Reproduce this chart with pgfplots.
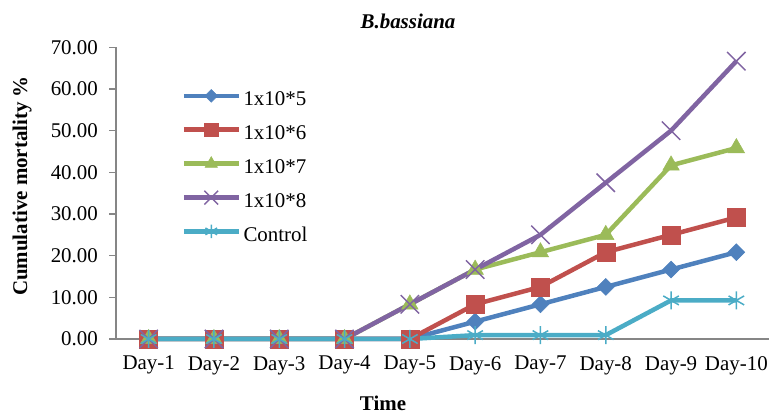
\documentclass[border=0pt]{standalone}
\usepackage{fontspec}
\setmainfont{Liberation Serif}
\usepackage{pgfplots}
\pgfplotsset{compat=1.18}
\definecolor{cA}{HTML}{4F81BD}
\definecolor{cB}{HTML}{C0504D}
\definecolor{cC}{HTML}{9BBB59}
\definecolor{cD}{HTML}{8064A2}
\definecolor{cE}{HTML}{4BACC6}
\definecolor{axgray}{HTML}{868686}
\begin{document}
\fontsize{21}{25}\selectfont
\begin{tikzpicture}
\useasboundingbox (0,0) rectangle (769bp,414bp);
\begin{axis}[
  at={(116bp,75bp)}, anchor=south west,
  scale only axis, width=653bp, height=291.7bp,
  xmin=0.5, xmax=10.5, ymin=0, ymax=70,
  xtick={1,2,3,4,5,6,7,8,9,10},
  xticklabels={Day-1,Day-2,Day-3,Day-4,Day-5,Day-6,Day-7,Day-8,Day-9,Day-10},
  ytick={0,10,20,30,40,50,60,70},
  axis x line*=bottom, axis y line*=left,
  axis line style={draw=axgray, line width=1.2bp, -},
  xtick style={draw=none},
  ytick style={draw=axgray, line width=1.2bp},
  tick align=outside, major tick length=7bp,
  tick label style={font=\fontsize{21}{25}\selectfont},
  yticklabel style={xshift=-4bp, /pgf/number format/.cd, fixed, fixed zerofill, precision=2, assume math mode=true},
  xticklabel style={yshift=-3bp},
  clip=false,
  legend cell align=left,
  legend style={draw=none, fill=none, inner sep=0pt, at={(0.100,0.856)}, anchor=north west,
    font=\fontsize{21}{25}\selectfont, row sep=12bp, column sep=2.5bp,
    nodes={inner sep=0pt, text height=15bp, text depth=5bp}},
  legend image code/.code={\draw[#1, /tikz/every mark/.append style={scale=0.75}, mark repeat=2, mark phase=2] plot coordinates {(0bp,5bp) (27.5bp,5bp) (55bp,5bp)};},
  every axis plot/.append style={line width=4.5bp},
]
\addplot[color=cA, mark=square*, mark size=6bp, mark options={rotate=45, line width=0.5bp}] coordinates {
(1,0) (2,0) (3,0) (4,0) (5,0) (6,4.17) (7,8.33) (8,12.5) (9,16.67) (10,20.83)};
\addlegendentry{1x10*5}
\addplot[color=cB, mark=square*, mark size=9bp, mark options={line width=0.5bp}] coordinates {
(1,0) (2,0) (3,0) (4,0) (5,0) (6,8.33) (7,12.5) (8,20.83) (9,25) (10,29.17)};
\addlegendentry{1x10*6}
\addplot[color=cC, mark=triangle*, mark size=9.5bp, mark options={line width=0.5bp}] coordinates {
(1,0) (2,0) (3,0) (4,0) (5,8.33) (6,16.67) (7,20.83) (8,25) (9,41.67) (10,45.83)};
\addlegendentry{1x10*7}
\addplot[color=cD, mark=x, mark size=13bp, mark options={line width=1.5bp}] coordinates {
(1,0) (2,0) (3,0) (4,0) (5,8.33) (6,16.67) (7,25) (8,37.5) (9,50) (10,66.67)};
\addlegendentry{1x10*8}
\addplot[color=cE, mark=asterisk, mark size=9bp, mark options={line width=1.5bp}] coordinates {
(1,0) (2,0) (3,0) (4,0) (5,0) (6,0.93) (7,0.93) (8,0.93) (9,9.26) (10,9.26)};
\addlegendentry{Control}
\end{axis}
\node[font=\fontsize{21}{25}\selectfont\bfseries\itshape] at (408bp,393bp) {B.bassiana};
\node[font=\fontsize{21}{25}\selectfont\bfseries, rotate=90] at (22bp,228bp) {Cumulative mortality \%};
\node[font=\fontsize{21}{25}\selectfont\bfseries] at (383bp,11bp) {Time};
\end{tikzpicture}
\end{document}
